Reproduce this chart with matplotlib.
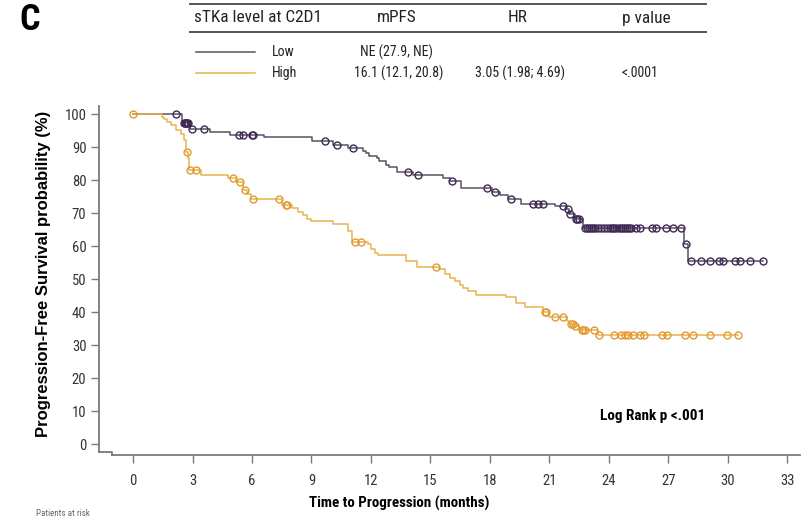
import numpy as np
import matplotlib.pyplot as plt
from matplotlib import font_manager

plt.rcParams['font.family'] = ['Liberation Sans', 'DejaVu Sans']

# pick a condensed face when one is installed
_names = {f.name for f in font_manager.fontManager.ttflist}
NARROW = [n for n in ['Roboto Condensed', 'Liberation Sans Narrow', 'Open Sans Condensed',
                      'Liberation Sans'] if n in _names] + ['DejaVu Sans']
IS_NARROW = NARROW[0] != 'Liberation Sans'

# Kaplan-Meier steps: event times (months) and survival (%) after each step
low_times = [0, 2.45, 2.85, 3.9, 4.9, 6.6, 9.05, 10.1, 10.85, 11.6, 11.75, 11.9,
             12.3, 12.4, 12.75, 12.9, 13.3, 14.1, 15.63, 16.0, 16.56, 18.1, 18.5,
             18.9, 19.57, 21.27, 21.85, 22.0, 22.3, 22.7, 27.8, 28.0]
low_surv = [100, 97.5, 95.5, 94.5, 93.7, 93.0, 91.8, 90.8, 89.7, 89.0, 88.2, 87.5,
            86.7, 85.9, 84.7, 84.0, 82.5, 81.5, 80.7, 79.9, 77.7, 76.5, 75.4,
            74.2, 72.9, 72.2, 71.2, 69.7, 68.3, 65.6, 60.8, 55.4]
low_end = 31.77
low_censor = [2.19, 2.58, 2.63, 2.68, 2.73, 2.78, 2.96, 3.57, 5.32, 5.56, 6.0, 6.06,
              9.67, 10.27, 11.12, 13.86, 14.36, 16.1, 17.85, 18.24, 19.08, 20.18,
              20.43, 20.68, 21.7, 21.95, 22.07, 22.35, 22.42, 22.5,
              22.8, 22.9, 23.0, 23.1, 23.2, 23.3, 23.45, 23.6, 23.75, 23.9, 24.05,
              24.15, 24.25, 24.35, 24.5, 24.6, 24.7, 24.8, 24.9, 25.0, 25.1,
              25.4, 25.6, 26.2, 26.4, 26.9, 27.25, 27.67, 27.9, 28.13, 28.68,
              29.1, 29.58, 29.78, 30.37, 30.62, 31.13, 31.77]

high_times = [0, 1.45, 1.58, 1.73, 1.9, 2.15, 2.4, 2.55, 2.65, 2.68, 2.78, 2.83,
              3.42, 4.77, 5.2, 5.55, 5.75, 5.95, 7.5, 8.0, 8.3, 8.55, 8.8, 9.0,
              10.07, 10.85, 11.05, 11.84, 12.0, 12.2, 12.35, 13.78, 14.3, 15.46,
              15.72, 15.97, 16.22, 16.47, 16.64, 16.89, 17.3, 18.83, 19.34, 19.76,
              20.7, 21.0, 21.9, 22.03, 22.25, 22.5, 23.45]
high_surv = [100, 99.3, 98.6, 97.6, 96.6, 95.3, 94.0, 92.3, 90.3, 88.5, 86.7, 83.0,
             81.7, 80.7, 79.5, 77.2, 75.8, 74.2, 72.5, 71.7, 70.4, 69.4, 68.4, 67.6,
             66.6, 64.5, 61.3, 60.6, 59.1, 58.1, 57.3, 55.4, 53.8, 53.1,
             51.7, 50.5, 49.5, 48.3, 47.3, 46.5, 45.3, 44.5, 42.7, 41.5,
             40.0, 38.5, 37.5, 36.5, 35.7, 34.7, 33.0]
high_end = 30.54
high_censor = [0, 2.72, 2.85, 3.17, 5.02, 5.4, 5.64, 6.06, 7.34, 7.72, 7.78, 11.2,
               11.5, 15.26, 20.78, 20.84, 21.3, 21.7, 22.12, 22.18, 22.3, 22.65,
               22.72, 22.8, 23.26, 23.5, 24.27, 24.64, 24.8, 24.98, 25.23, 25.6,
               25.8, 26.67, 26.92, 27.84, 28.26, 29.1, 29.98, 30.54]

x_ticks = np.arange(0, 34, 3)
y_ticks = np.arange(0, 101, 10)

LOW_LINE, LOW_MARK = '#5a5262', '#3e2a55'
HIGH_LINE, HIGH_MARK = '#e8b450', '#e39a30'
AXIS_GREY = '#7a7a7a'
TXT = '#222222'

# text sizes: condensed face can run larger at the same width
k = 1.0 if IS_NARROW else 0.84


def step_value(times, surv, t):
    i = np.searchsorted(times, t, side='right') - 1
    return np.asarray(surv)[i]


fig = plt.figure(figsize=(8.06, 5.2), dpi=100)
W, H = 806, 520
x0, x1 = -1.72, 33.65
y0, y1 = -3.24, 102.5
ax = fig.add_axes([99 / W, (H - 455) / H, (800 - 99) / W, (455 - 106) / H])
ax.set_xlim(x0, x1)
ax.set_ylim(y0, y1)

for times, surv, end, cens, lc, mc in [
        (low_times, low_surv, low_end, low_censor, LOW_LINE, LOW_MARK),
        (high_times, high_surv, high_end, high_censor, HIGH_LINE, HIGH_MARK)]:
    tx = list(times) + [end]
    sy = list(surv) + [surv[-1]]
    ax.step(tx, sy, where='post', color=lc, lw=1.1, zorder=3)
    cy = step_value(times, surv, np.array(cens))
    ax.plot(cens, cy, ls='none', marker='o', ms=5.0, mfc='none', mec=mc,
            mew=1.0, zorder=4, clip_on=False)

# axes in the offset SAS style
for side in ['top', 'right']:
    ax.spines[side].set_visible(False)
for side in ['left', 'bottom']:
    ax.spines[side].set_color(AXIS_GREY)
    ax.spines[side].set_linewidth(1.3)
ax.spines['left'].set_bounds(-2.3, y1)
ax.spines['bottom'].set_bounds(-1.06, x1)
ax.plot([x0, -1.06, -1.06], [-2.3, -2.3, y0], color=AXIS_GREY, lw=1.3,
        clip_on=False, zorder=2)

ax.set_xticks(x_ticks)
ax.set_yticks(y_ticks)
ax.tick_params(axis='x', direction='out', length=6, width=1.0, color=AXIS_GREY,
               pad=8, labelsize=10.5, labelcolor='#333333')
ax.tick_params(axis='y', direction='out', length=6, width=1.0, color=AXIS_GREY,
               pad=3, labelsize=10.5, labelcolor='#333333')
for lab in ax.get_xticklabels() + ax.get_yticklabels():
    lab.set_family(NARROW)

ax.set_xlabel('Time to Progression (months)', fontsize=10.8 * k, fontweight='bold',
              family=NARROW)
ax.set_ylabel('Progression-Free Survival probability (%)', fontsize=12,
              fontweight='bold')
ax.yaxis.set_label_coords(-0.068, 0.52)
ax.xaxis.set_label_coords(0.428, -0.118)

ax.text(26.2, 8.6, 'Log Rank p <.001', fontsize=11 * k, fontweight='bold',
        family=NARROW, ha='center', va='center')

# summary table drawn in figure pixel coordinates
ov = fig.add_axes([0, 0, 1, 1], facecolor='none')
ov.set_xlim(0, W)
ov.set_ylim(H, 0)
ov.axis('off')
ov.text(19, 20, 'C', fontsize=26, fontweight='bold', family=NARROW, va='center')
ov.plot([190, 706], [4, 4], color='#555555', lw=1.4)
ov.plot([190, 706], [32, 32], color='#555555', lw=1.4)
hdr = [('sTKa level at C2D1', 258), ('mPFS', 397), ('HR', 518), ('p value', 646)]
for txt, cx in hdr:
    ov.text(cx, 18, txt, fontsize=12.4 * k, family=NARROW, ha='center', va='center',
            color=TXT)
ov.plot([196, 255], [52, 52], color=LOW_LINE, lw=1.1)
ov.plot([196, 255], [73, 73], color=HIGH_LINE, lw=1.1)
row_low = [('Low', 272), ('NE (27.9, NE)', 360)]
row_high = [('High', 272), ('16.1 (12.1, 20.8)', 354), ('3.05 (1.98; 4.69)', 475),
            ('<.0001', 622)]
for txt, lx in row_low:
    ov.text(lx, 52, txt, fontsize=10 * k, family=NARROW, va='center', color=TXT)
for txt, lx in row_high:
    ov.text(lx, 73, txt, fontsize=10 * k, family=NARROW, va='center', color=TXT)
ov.text(36, 514, 'Patients at risk', fontsize=6.5, family=NARROW, va='center',
        color='#666666')

fig.savefig('out.png', dpi=100)
